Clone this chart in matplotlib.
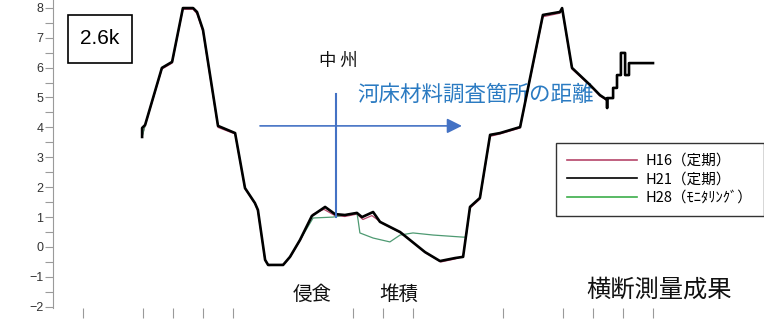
import matplotlib
matplotlib.use("Agg")
import matplotlib.pyplot as plt
from matplotlib.patches import Rectangle

plt.rcParams['font.family'] = ['Noto Sans CJK JP', 'DejaVu Sans']

# distance (m) and elevation (m)
h21_x = [29.7, 29.7, 30.7, 36.3, 39.7, 43.3, 46.7, 48.0, 50.0, 55.0, 60.7, 64.0, 67.3, 68.3,
         70.7, 71.7, 76.7, 79.0, 82.3, 86.3, 90.7, 94.0, 97.3, 101.3, 103.0, 106.7, 109.0,
         115.7, 124.0, 129.0, 134.0, 136.7, 139.0, 142.3, 145.7, 149.0, 155.7, 163.3, 169.0,
         169.7, 173.0, 179.0, 182.3, 184.7, 184.7, 184.7, 186.7, 186.7, 188.0, 188.0, 189.3,
         189.3, 190.7, 190.7, 192.0, 192.0, 200.0]
h21_y = [3.68, 3.98, 4.08, 5.99, 6.19, 7.99, 7.99, 7.86, 7.26, 4.05, 3.81, 1.97, 1.47, 1.24,
         -0.43, -0.60, -0.60, -0.33, 0.23, 1.04, 1.34, 1.10, 1.07, 1.14, 1.00, 1.17, 0.84,
         0.50, -0.17, -0.47, -0.37, -0.33, 1.34, 1.64, 3.75, 3.81, 4.01, 7.76, 7.86,
         7.99, 5.99, 5.42, 5.08, 4.92, 4.65, 4.98, 4.98, 5.32, 5.32, 5.75, 5.75,
         6.49, 6.49, 5.75, 5.75, 6.15, 6.15]

h16_x = [29.7, 30.7, 36.3, 39.7, 43.3, 46.7, 48.0, 50.0, 55.0, 60.7, 64.0, 67.3, 68.3,
         70.7, 72.0, 77.0, 79.3, 82.7, 86.7, 90.3, 94.0, 97.3, 101.3, 103.3, 106.3, 110.0,
         116.0, 124.3, 129.3, 134.0, 136.7, 139.0, 142.3, 145.7, 149.0, 155.7, 163.3, 169.0,
         169.7, 173.0, 179.0, 182.3, 184.7]
h16_y = [3.70, 4.06, 5.95, 6.15, 7.95, 7.95, 7.80, 7.20, 4.00, 3.78, 1.95, 1.45, 1.20,
         -0.45, -0.62, -0.58, -0.30, 0.28, 1.10, 1.26, 1.05, 1.02, 1.10, 0.92, 1.05, 0.78,
         0.47, -0.20, -0.50, -0.40, -0.30, 1.30, 1.60, 3.70, 3.78, 3.98, 7.70, 7.82,
         7.95, 5.95, 5.40, 5.05, 4.90]

h28_x = [29.7, 30.7, 36.3, 39.7, 43.3, 46.7, 48.0, 50.0, 55.0, 60.7, 64.0, 67.3, 68.3,
         70.7, 71.7, 76.7, 79.0, 82.3, 86.7, 93.3, 97.3, 101.3, 101.7, 102.3, 106.7, 112.3,
         115.7, 120.0, 126.7, 136.7, 137.7, 139.0, 142.3, 145.7, 149.0, 155.7, 163.3, 169.0,
         169.7, 173.0, 179.0, 182.3, 184.7]
h28_y = [3.68, 4.08, 5.99, 6.19, 7.99, 7.99, 7.86, 7.26, 4.05, 3.81, 1.97, 1.47, 1.24,
         -0.43, -0.60, -0.60, -0.33, 0.23, 0.97, 1.00, 1.07, 1.14, 0.90, 0.47, 0.30, 0.17,
         0.40, 0.47, 0.40, 0.33, 0.33, 1.34, 1.64, 3.75, 3.81, 4.01, 7.76, 7.86,
         7.99, 5.99, 5.42, 5.08, 4.92]

labels = ["H16（定期）", "H21（定期）", "H28（ﾓﾆﾀﾘﾝｸﾞ）"]
colors = ["#b5466a", "#000000", "#4e9a72"]
legend_colors = ["#b5466a", "#000000", "#3cae4a"]

y_major = list(range(-2, 9))
y_minor = [v + 0.5 for v in range(-2, 8)]
x_ticks = [10, 30, 40, 50, 60, 100, 110, 120, 150, 170, 180, 190, 200]

W, H = 764, 319
fig = plt.figure(figsize=(W / 100, H / 100), dpi=100)
ax = fig.add_axes([53 / W, 1 - 308 / H, (W - 53) / W, 308 / H])

ax.plot(h16_x, h16_y, color=colors[0], lw=0.9, zorder=2)
ax.plot(h28_x, h28_y, color=colors[2], lw=0.9, zorder=3)
ax.plot(h21_x, h21_y, color=colors[1], lw=1.9, zorder=4)

ax.set_xlim(0, 237)
ax.set_ylim(-2.04, 8.26)

for s in ['top', 'right', 'bottom']:
    ax.spines[s].set_visible(False)
ax.spines['left'].set_color('#9a9a9a')
ax.spines['left'].set_linewidth(0.8)

ax.set_yticks(y_major)
ax.set_yticks(y_minor, minor=True)
ax.set_yticklabels([str(v).replace('-', '−') for v in y_major])
ax.tick_params(axis='y', which='both', direction='out', length=6, width=0.8,
               color='#9a9a9a', labelsize=9, labelcolor='#333333', pad=1)
for t in ax.get_yticklabels():
    t.set_family(['Liberation Sans', 'DejaVu Sans'])
ax.set_xticks(x_ticks)
ax.set_xticklabels([])
ax.tick_params(axis='x', direction='out', length=7.5, width=0.8, color='#9a9a9a')

# legend
handles = [plt.Line2D([], [], color=c, lw=1.2) for c in legend_colors]
leg = fig.legend(handles, labels, loc='upper left',
                 bbox_to_anchor=(556 / W, 1 - 143 / H), borderaxespad=0,
                 frameon=True, fancybox=False, fontsize=10.5, handlelength=4.8,
                 handletextpad=0.6, labelspacing=0.3, borderpad=0.75)
leg.get_frame().set_edgecolor('black')
leg.get_frame().set_linewidth(1.0)

# annotations
ax.add_patch(Rectangle((5.0, 6.15), 21.3, 1.61, fill=False, ec='black', lw=1.2, zorder=5))
ax.text(15.7, 6.96, "2.6k", ha='center', va='center', fontsize=15,
        family=['Liberation Sans', 'DejaVu Sans'], zorder=6)
ax.text(95.0, 6.22, "中 州", ha='center', va='center', fontsize=12.5, color='#111111')
ax.text(101.3, 5.08, "河床材料調査箇所の距離", ha='left', va='center', fontsize=15.5,
        color='#2b7bc2')
ax.annotate("", xy=(136.3, 4.05), xytext=(69.0, 4.05),
            arrowprops=dict(arrowstyle='-|>,head_length=0.9,head_width=0.45',
                            color='#4472c4', lw=1.2, shrinkA=0, shrinkB=0), zorder=5)
ax.plot([94.3, 94.3], [5.12, 1.0], color='#4472c4', lw=1.5, zorder=5)
ax.text(86.3, -1.6, "侵食", ha='center', va='center', fontsize=14, color='#111111')
ax.text(115.3, -1.6, "堆積", ha='center', va='center', fontsize=14, color='#111111')
ax.text(202.0, -1.44, "横断測量成果", ha='center', va='center', fontsize=17.5,
        color='#111111')

fig.savefig("out.png", dpi=100)
